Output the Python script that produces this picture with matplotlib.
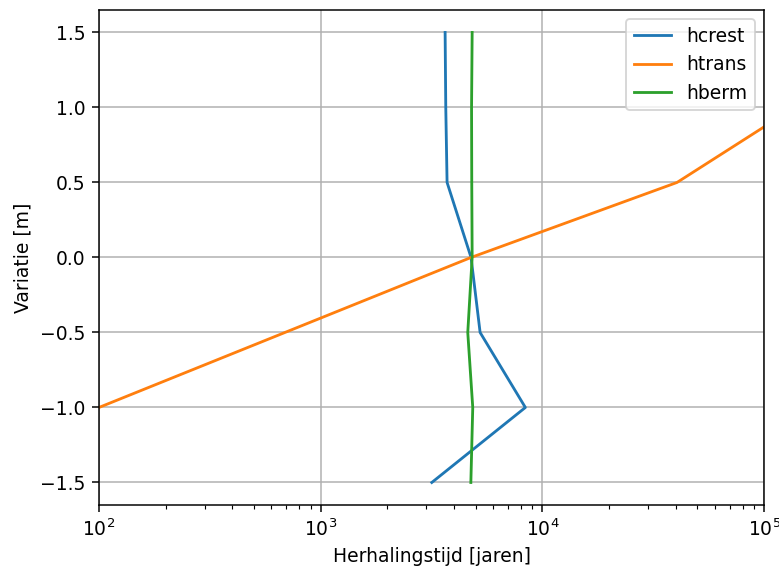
import matplotlib
matplotlib.use("Agg")
import matplotlib.pyplot as plt

# Variation steps [m]
variatie = [-1.5, -1.0, -0.5, 0.0, 0.5, 1.0, 1.5]

# Return periods [years] per variation
hcrest = [3170, 8375, 5235, 4765, 3715, 3665, 3640]
htrans = [15, 100, 690, 4765, 40450, 137000, 470000]
hberm = [4755, 4850, 4605, 4820, 4800, 4790, 4820]

DPI = 135
fig = plt.figure(figsize=(779 / DPI, 571 / DPI), dpi=DPI)
ax = fig.add_axes([0.127, 0.1156, 0.854, 0.867])

ax.plot(hcrest, variatie, label="hcrest")
ax.plot(htrans, variatie, label="htrans")
ax.plot(hberm, variatie, label="hberm")

ax.set_xscale("log")
ax.set_xlim(1e2, 1e5)
ax.set_ylim(-1.65, 1.65)
ax.grid(True)
ax.set_xlabel("Herhalingstijd [jaren]")
ax.set_ylabel("Variatie [m]")
ax.legend(loc="upper right")

fig.savefig("out.png", dpi=DPI)
